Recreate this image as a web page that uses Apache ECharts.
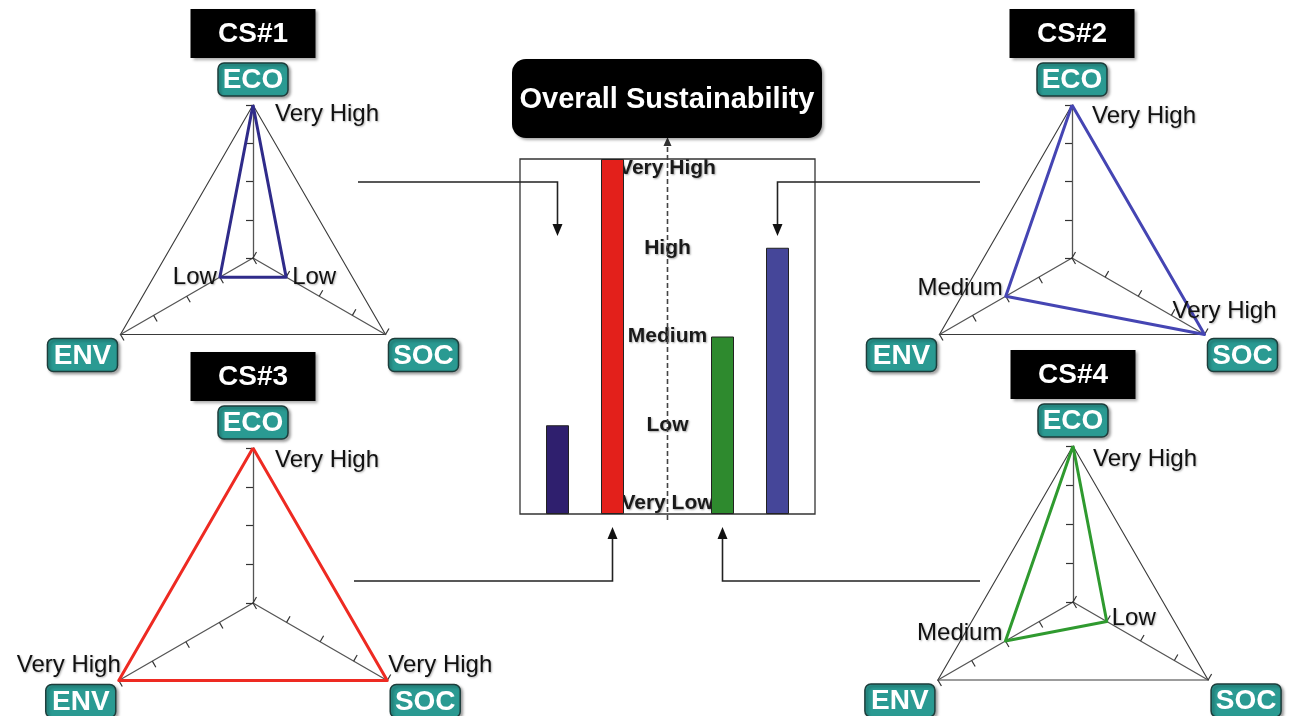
<!DOCTYPE html>
<html><head><meta charset="utf-8">
<script src="https://cdn.jsdelivr.net/npm/echarts@6/dist/echarts.min.js"></script>
<style>html,body{margin:0;padding:0;background:#fff}#c{width:1301px;height:716px}</style>
</head><body><div id="c"></div>
<script>
// ---------- DATA ----------
const levels = ['Very Low', 'Low', 'Medium', 'High', 'Very High'];
const dimensions = ['ECO', 'ENV', 'SOC'];
const caseNames = ['CS#1', 'CS#2', 'CS#3', 'CS#4'];
const cs1 = [4, 1, 1];   // ECO Very High, ENV Low, SOC Low
const cs2 = [4, 2, 4];   // ECO Very High, ENV Medium, SOC Very High
const cs3 = [4, 4, 4];   // all Very High
const cs4 = [4, 2, 1];   // ECO Very High, ENV Medium, SOC Low
const barCategories = ['CS#1', 'CS#3', '', 'CS#4', 'CS#2'];
const overallValues = [1, 4, '-', 2, 3];
const chartTitle = 'Overall Sustainability';

// ---------- STYLE / LAYOUT ----------
const caseData = [cs1, cs2, cs3, cs4];
const radarLayout = [
  { center: [253, 258], radius: 153, color: '#2f2b8a' },
  { center: [1072, 258], radius: 153, color: '#4545b3' },
  { center: [253, 603], radius: 155, color: '#ee2a22' },
  { center: [1073, 602], radius: 156, color: '#2f9a2f' }
];
// per radar, per axis: [align, dx, dy]
const valueLabelStyle = [
  [['left', 22, 9], ['right', -3, 0], ['left', 6, 0]],
  [['left', 20, 11], ['right', -3, -8], ['left', -32, -23]],
  [['left', 22, 12], ['right', 2, -15], ['left', 1, -15]],
  [['left', 20, 13], ['right', -3, -8], ['left', 5, -3]]
];
const barColors = ['#2f1f6e', '#e3201b', '#000', '#2e8a2e', '#454699'];
const FONT = '"Liberation Sans", Arial, sans-serif';
const TEAL = '#2a9a92';
const MAXV = levels.length - 1;

const chart = echarts.init(document.getElementById('c'), null, { renderer: 'canvas' });

const labelRich = (extra) => Object.assign({ fontFamily: FONT, fontSize: 21, fontWeight: 'bold', color: '#1a1a1a', textShadowColor: 'rgba(0,0,0,0.35)', textShadowBlur: 2, textShadowOffsetX: 1, textShadowOffsetY: 1 }, extra);

const option = {
  backgroundColor: '#fff',
  animation: false,
  radar: radarLayout.map(l => ({
    center: l.center,
    radius: l.radius,
    startAngle: 90,
    shape: 'polygon',
    splitNumber: MAXV,
    indicator: dimensions.map(d => ({ name: d, min: 0, max: MAXV })),
    axisName: { show: false },
    axisLine: { show: true, lineStyle: { color: '#555', width: 1.3 } },
    axisTick: { show: true, length: 7, lineStyle: { color: '#333', width: 1.2 } },
    axisLabel: { show: false },
    splitLine: { show: true, lineStyle: { color: ['rgba(0,0,0,0)', 'rgba(0,0,0,0)', 'rgba(0,0,0,0)', 'rgba(0,0,0,0)', '#3a3a3a'], width: 1.1 } },
    splitArea: { show: false }
  })),
  grid: { left: 530, right: 1301 - 805, top: 159, bottom: 716 - 514, show: false },
  xAxis: {
    type: 'category', data: barCategories,
    axisLine: { show: false }, axisTick: { show: false }, axisLabel: { show: false }, splitLine: { show: false }
  },
  yAxis: {
    type: 'value', min: 0, max: MAXV, interval: 1,
    position: 'left', offset: -137.5,
    axisLine: { show: false }, axisTick: { show: false }, splitLine: { show: false },
    axisLabel: {
      show: true, margin: 0, align: 'center',
      formatter: v => v === MAXV ? '{t|' + levels[v] + '}' : (v === 0 ? '{b|' + levels[v] + '}' : '{n|' + levels[v] + '}'),
      rich: {
        t: labelRich({ padding: [18, 0, 0, 0] }),
        b: labelRich({ padding: [0, 0, 22, 0] }),
        n: labelRich({})
      }
    }
  },
  series: [
    ...caseData.map((vals, i) => ({
      type: 'radar', radarIndex: i, symbol: 'none', z: 3,
      lineStyle: { color: radarLayout[i].color, width: 3 },
      itemStyle: { color: radarLayout[i].color },
      data: [{ value: vals, name: caseNames[i] }]
    })),
    {
      type: 'bar', xAxisIndex: 0, yAxisIndex: 0, barWidth: 23, z: 3,
      data: overallValues,
      itemStyle: { color: p => barColors[p.dataIndex], borderColor: '#222', borderWidth: 1 }
    }
  ]
};
chart.setOption(option);

function pointOf(ri, val, di) {
  try {
    const cs = chart.getModel().getComponent('radar', ri).coordinateSystem;
    const p = cs.dataToPoint(val, di);
    if (p && isFinite(p[0])) return p;
  } catch (e) {}
  const l = radarLayout[ri];
  const a = (90 + di * 120) * Math.PI / 180;
  const r = l.radius * val / MAXV;
  return [l.center[0] + r * Math.cos(a), l.center[1] - r * Math.sin(a)];
}

const els = [];
const shadowTxt = { textShadowColor: 'rgba(0,0,0,0.3)', textShadowBlur: 2, textShadowOffsetX: 1, textShadowOffsetY: 1 };

function box(x, y, w, h, r, fill, stroke, text, fs) {
  els.push({
    type: 'rect', z: 10,
    shape: { x: x, y: y, width: w, height: h, r: r },
    style: { fill: fill, stroke: stroke, lineWidth: stroke ? 1.5 : 0, shadowBlur: 3, shadowOffsetX: 2, shadowOffsetY: 2, shadowColor: 'rgba(0,0,0,0.35)' }
  });
  els.push({
    type: 'text', z: 11,
    style: { text: text, x: x + w / 2, y: y + h / 2 + 1, fill: '#fff', font: 'bold ' + fs + 'px ' + FONT, align: 'center', verticalAlign: 'middle', textAlign: 'center', textVerticalAlign: 'middle' }
  });
}

radarLayout.forEach((l, ri) => {
  const cx = l.center[0], cy = l.center[1];
  dimensions.forEach((d, di) => {
    const t = pointOf(ri, MAXV, di);
    let bx, by;
    if (t[1] < cy - 10) { bx = t[0] - 35; by = t[1] - 42; }
    else if (t[0] < cx) { bx = t[0] - 3 - 70; by = t[1] + 4; }
    else { bx = t[0] + 3; by = t[1] + 4; }
    box(bx, by, 70, 33, 6, TEAL, '#1d3d3b', d, 28);
    if (t[1] < cy - 10) {
      box(t[0] - 62.5, t[1] - 96, 125, 49, 0, '#000', null, caseNames[ri], 28);
    }
    // value label
    const v = caseData[ri][di];
    const p = pointOf(ri, v, di);
    const s = valueLabelStyle[ri][di];
    els.push({
      type: 'text', z: 12,
      style: Object.assign({ text: levels[v], x: p[0] + s[1], y: p[1] + s[2], fill: '#111', font: '24px ' + FONT, align: s[0], verticalAlign: 'middle', textAlign: s[0], textVerticalAlign: 'middle' }, shadowTxt)
    });
  });
});

// bar chart frame
els.push({ type: 'rect', z: 1, shape: { x: 520, y: 159, width: 295, height: 355 }, style: { fill: 'none', stroke: '#333', lineWidth: 1.3 } });
// dashed center arrow
const midX = chart.convertToPixel({ xAxisIndex: 0 }, 2);
els.push({ type: 'line', z: 2, shape: { x1: midX, y1: 520, x2: midX, y2: 144 }, style: { stroke: '#444', lineWidth: 1.6, lineDash: [5, 3] } });
els.push({ type: 'polygon', z: 2, shape: { points: [[midX, 137], [midX - 4, 146], [midX + 4, 146]] }, style: { fill: '#333' } });
// overall title
box(512, 59, 310, 79, 14, '#000', null, chartTitle, 29);

// connector arrows
function arrow(x0, y0, catIdx, yTip) {
  const bx = chart.convertToPixel({ xAxisIndex: 0 }, catIdx);
  const dir = yTip > y0 ? 1 : -1;
  els.push({ type: 'polyline', z: 5, shape: { points: [[x0, y0], [bx, y0], [bx, yTip - dir * 10]] }, style: { stroke: '#222', lineWidth: 1.6, fill: null } });
  els.push({ type: 'polygon', z: 5, shape: { points: [[bx, yTip], [bx - 5, yTip - dir * 12], [bx + 5, yTip - dir * 12]] }, style: { fill: '#111' } });
}
arrow(358, 182, 0, 236);
arrow(980, 182, 4, 236);
arrow(354, 581, 1, 527);
arrow(980, 581, 3, 527);

chart.setOption({ graphic: { elements: els } });
</script></body></html>
